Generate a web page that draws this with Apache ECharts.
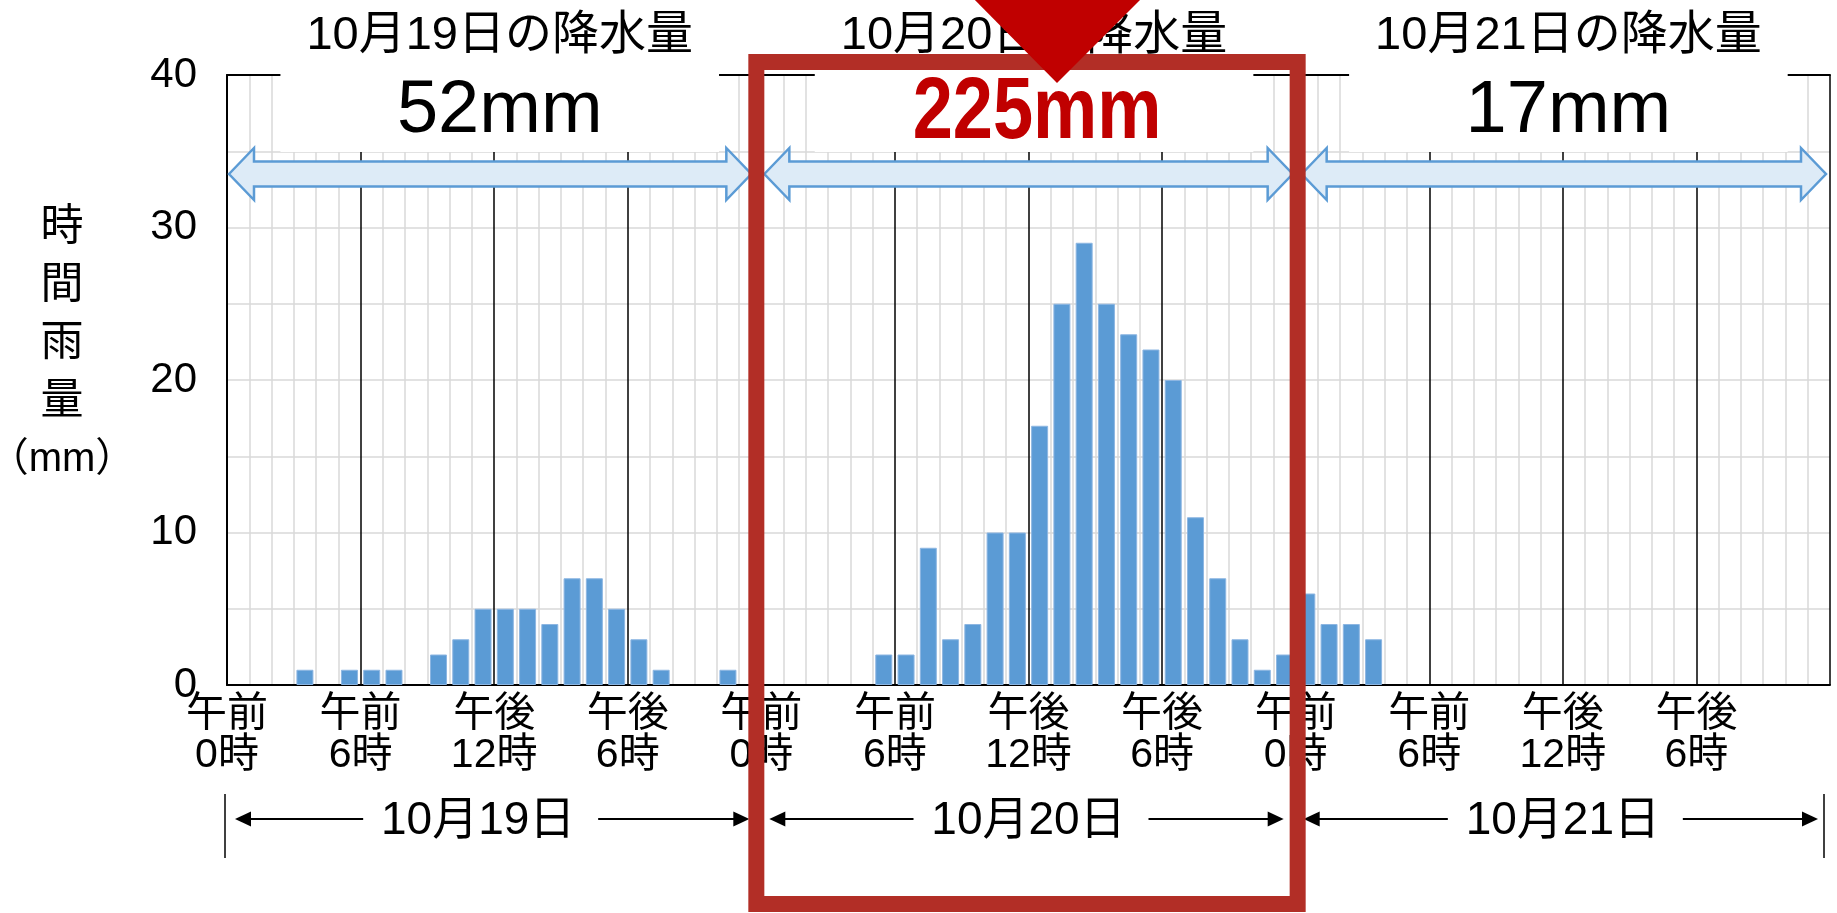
<!DOCTYPE html>
<html><head><meta charset="utf-8">
<script src="https://cdn.jsdelivr.net/npm/echarts@6/dist/echarts.min.js"></script>
<style>html,body{margin:0;padding:0;background:#fff}#c{width:1837px;height:913px}</style>
</head><body><div id="c"></div>
<script>
// ---- data ----
const days = ['10月19日', '10月20日', '10月21日'];
const headerSuffix = 'の降水量';
const dayTotals = ['52mm', '225mm', '17mm'];
const rain19 = [0,0,0,1,0,1,1,1,0,2,3,5,5,5,4,7,7,5,3,1,0,0,1,0];
const rain20 = [0,0,0,0,0,2,2,9,3,4,10,10,17,25,29,25,23,22,20,11,7,3,1,2];
const rain21 = [6,4,4,3,0,0,0,0,0,0,0,0,0,0,0,0,0,0,0,0,0,0,0,0];
const hourTickLabels = ['午前\n0時', '午前\n6時', '午後\n12時', '午後\n6時'];
const yTitleChars = ['時', '間', '雨', '量'];
const yTitleUnit = '（mm）';

// ---- build ----
const FONT = "'Liberation Sans', Arial, 'Noto Sans CJK JP', sans-serif";
const allRain = rain19.concat(rain20, rain21);
const barData = [];
allRain.forEach((v, i) => { if (v > 0) barData.push([i + 0.5, v]); });

const chart = echarts.init(document.getElementById('c'));
chart.setOption({
  animation: false,
  backgroundColor: '#fff',
  grid: { left: 227, right: 7, top: 75, bottom: 228 },
  xAxis: [{
    type: 'value', min: 0, max: 72, interval: 6,
    axisLine: { show: true, lineStyle: { color: '#000', width: 2 } },
    axisTick: { show: false },
    axisLabel: {
      formatter: v => (v >= 72 ? '' : hourTickLabels[(v % 24) / 6]),
      fontSize: 41, lineHeight: 41, color: '#000', fontFamily: FONT, margin: 9
    },
    splitLine: { show: true, lineStyle: { color: '#000', width: 1.5 } },
    minorTick: { show: false, splitNumber: 6 },
    minorSplitLine: { show: true, lineStyle: { color: '#D9D9D9', width: 1.5 } }
  }, {
    type: 'value', position: 'top', min: 0, max: 72,
    axisLine: { show: true, lineStyle: { color: '#000', width: 2 } },
    axisTick: { show: false }, axisLabel: { show: false }, splitLine: { show: false }
  }],
  yAxis: {
    type: 'value', min: 0, max: 40, interval: 10,
    axisLine: { show: true, lineStyle: { color: '#000', width: 2 } },
    axisTick: { show: false },
    axisLabel: { fontSize: 42, color: '#000', fontFamily: FONT, margin: 30 },
    splitLine: { show: true, lineStyle: { color: '#D9D9D9', width: 1.5 } },
    minorTick: { show: false, splitNumber: 2 },
    minorSplitLine: { show: true, lineStyle: { color: '#D9D9D9', width: 1.5 } }
  },
  series: [{
    type: 'bar', xAxisIndex: 0, data: barData, barWidth: 17,
    itemStyle: { color: '#5B9BD5', borderColor: '#8DB6E2', borderWidth: 1 }, z: 2
  }]
});

// ---- annotations (positions derived from the axis scale) ----
const px = h => chart.convertToPixel({ xAxisIndex: 0 }, h);
const g = [];
function txt(x, y, text, font, fill, z, extra) {
  return Object.assign({
    type: 'text', x: x, y: y, z: z,
    style: { text: text, font: font, fill: fill, align: 'center', verticalAlign: 'middle',
             textAlign: 'center', textVerticalAlign: 'middle' }
  }, extra || {});
}
const arrowSpans = [[px(0) + 2, px(24) - 10], [px(24) + 3, px(48) - 3], [px(48) + 6, px(72) - 4]];
const textOffset = [-16, 0, 0];
days.forEach((d, i) => {
  const L = px(24 * i), R = px(24 * (i + 1));
  const bx0 = px(24 * i + 2.4), bx1 = px(24 * i + 22.1);
  const cx = (bx0 + bx1) / 2;
  // white cover box
  g.push({ type: 'rect', z: 10, shape: { x: bx0, y: -5, width: bx1 - bx0, height: 157 }, style: { fill: '#fff' } });
  // header
  g.push(txt(cx, 36, d + headerSuffix, "47px " + FONT, '#000', 20));
  // total
  if (i === 1) {
    g.push(txt(cx + 3, 114, dayTotals[i], "bold 88px " + FONT, '#C00000', 20, { scaleX: 0.82 }));
  } else {
    g.push(txt(cx, 112, dayTotals[i], "74px " + FONT, '#000', 20));
  }
  // block double arrow
  const a = arrowSpans[i][0], b = arrowSpans[i][1], yc = 174, hl = 25;
  g.push({ type: 'polygon', z: 15, shape: { points: [
    [a, yc], [a + hl, yc - 26], [a + hl, yc - 12.5], [b - hl, yc - 12.5], [b - hl, yc - 26],
    [b, yc], [b - hl, yc + 26], [b - hl, yc + 12.5], [a + hl, yc + 12.5], [a + hl, yc + 26]
  ] }, style: { fill: '#DDEBF7', stroke: '#5B9BD5', lineWidth: 2.5 } });
  // bottom date row
  const tc = (L + R) / 2 + textOffset[i], yr = 819;
  const lt = L + 8, rt = R - 12;
  g.push({ type: 'line', z: 20, shape: { x1: lt + 12, y1: yr, x2: tc - 115, y2: yr }, style: { stroke: '#000', lineWidth: 2 } });
  g.push({ type: 'line', z: 20, shape: { x1: tc + 120, y1: yr, x2: rt - 12, y2: yr }, style: { stroke: '#000', lineWidth: 2 } });
  g.push({ type: 'polygon', z: 20, shape: { points: [[lt, yr], [lt + 16, yr - 7.5], [lt + 16, yr + 7.5]] }, style: { fill: '#000' } });
  g.push({ type: 'polygon', z: 20, shape: { points: [[rt, yr], [rt - 16, yr - 7.5], [rt - 16, yr + 7.5]] }, style: { fill: '#000' } });
  g.push(txt(tc, 821, d, "46px " + FONT, '#000', 20));
});
// end ticks of the bottom date row
g.push({ type: 'line', z: 20, shape: { x1: px(0) - 2, y1: 794, x2: px(0) - 2, y2: 858 }, style: { stroke: '#000', lineWidth: 1.5 } });
g.push({ type: 'line', z: 20, shape: { x1: px(72) - 6, y1: 794, x2: px(72) - 6, y2: 858 }, style: { stroke: '#000', lineWidth: 1.5 } });
// y-axis title
g.push(txt(62, 315, yTitleChars.join('\n'), "43px " + FONT, '#000', 20, {}));
g[g.length - 1].style.lineHeight = 58;
g.push(txt(62, 460, yTitleUnit, "40px " + FONT, '#000', 20));
// red highlight frame and pointer
const fx0 = px(24) - 5, fx1 = px(48) + 2;
g.push({ type: 'rect', z: 30, shape: { x: fx0, y: 62, width: fx1 - fx0, height: 842 },
  style: { fill: 'none', stroke: '#B22E26', lineWidth: 16 } });
g.push({ type: 'polygon', z: 31, shape: { points: [[965, -10], [1150, -10], [1057, 83]] }, style: { fill: '#C00000' } });

chart.setOption({ graphic: { elements: g } });
</script></body></html>
